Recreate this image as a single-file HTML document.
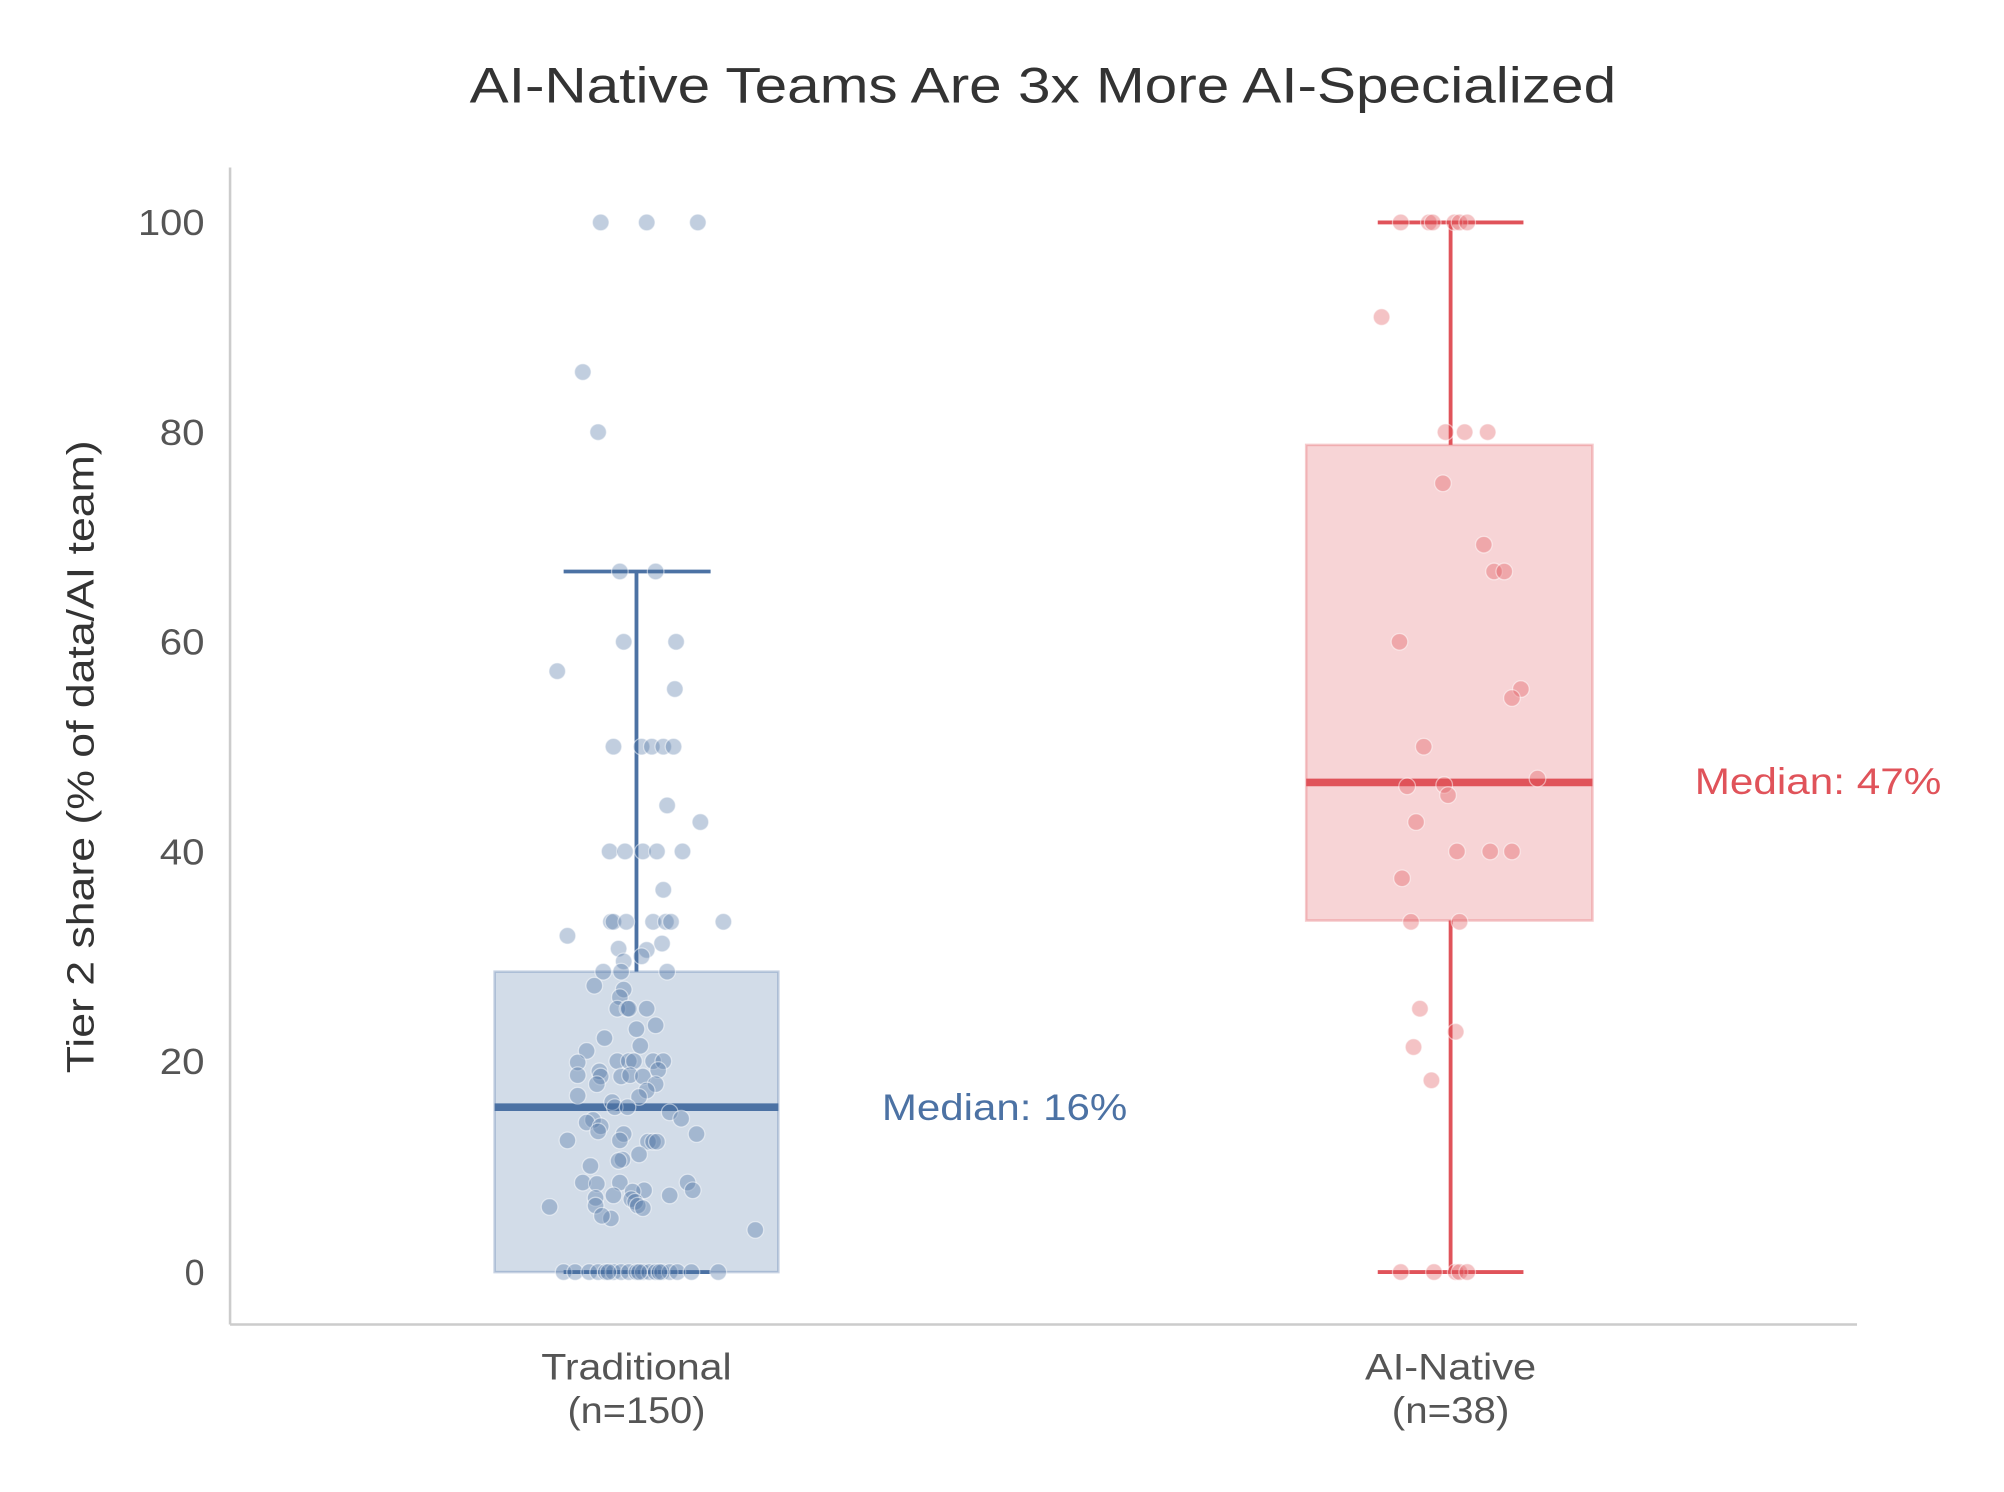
<!DOCTYPE html>
<html><head><meta charset="utf-8"><style>html,body{margin:0;padding:0;background:#fff}svg{display:block}</style></head>
<body>
<svg width="2004" height="1492" viewBox="0 0 1568 1167" preserveAspectRatio="none" xmlns="http://www.w3.org/2000/svg" font-family="Liberation Sans, Arial, sans-serif">
<rect width="1568" height="1167" fill="#fff"/>
<text x="816" y="80" font-size="39" fill="#333" text-anchor="middle" textLength="897" lengthAdjust="spacingAndGlyphs">AI-Native Teams Are 3x More AI-Specialized</text>
<line x1="180" y1="131" x2="180" y2="1036" stroke="#ccc" stroke-width="2"/>
<line x1="180" y1="1036" x2="1453" y2="1036" stroke="#ccc" stroke-width="2"/>
<g font-size="28" fill="#555" text-anchor="end">
<text x="160" y="184" textLength="52" lengthAdjust="spacingAndGlyphs">100</text><text x="160" y="348" textLength="35" lengthAdjust="spacingAndGlyphs">80</text><text x="160" y="512" textLength="35" lengthAdjust="spacingAndGlyphs">60</text><text x="160" y="676" textLength="35" lengthAdjust="spacingAndGlyphs">40</text><text x="160" y="840" textLength="35" lengthAdjust="spacingAndGlyphs">20</text><text x="160" y="1005">0</text>
</g>
<text transform="translate(73,592) rotate(-90)" font-size="30" fill="#333" text-anchor="middle" textLength="495" lengthAdjust="spacingAndGlyphs">Tier 2 share (% of data/AI team)</text>
<g font-size="29" fill="#555" text-anchor="middle">
<text x="498" y="1079" textLength="149" lengthAdjust="spacingAndGlyphs">Traditional</text><text x="498" y="1113" textLength="108" lengthAdjust="spacingAndGlyphs">(n=150)</text>
<text x="1135" y="1079" textLength="134" lengthAdjust="spacingAndGlyphs">AI-Native</text><text x="1135" y="1113" textLength="92" lengthAdjust="spacingAndGlyphs">(n=38)</text>
</g>
<!-- Traditional box -->
<rect x="387" y="760" width="222" height="235" fill="rgba(76,114,164,0.25)" stroke="rgba(76,114,164,0.3)" stroke-width="2"/>
<g stroke="#4C72A4" stroke-width="3">
<line x1="498" y1="760" x2="498" y2="447"/><line x1="441" y1="447" x2="556" y2="447"/>
<line x1="441" y1="995" x2="556" y2="995"/>
</g>
<line x1="387" y1="866" x2="609" y2="866" stroke="#4C72A4" stroke-width="6"/>
<text x="690" y="876" font-size="29" fill="#4C72A4" textLength="192" lengthAdjust="spacingAndGlyphs">Median: 16%</text>
<!-- AI-Native box -->
<rect x="1022" y="348" width="224" height="372" fill="rgba(224,83,90,0.25)" stroke="rgba(224,83,90,0.3)" stroke-width="2"/>
<g stroke="#E0535A" stroke-width="3">
<line x1="1135" y1="348" x2="1135" y2="174"/><line x1="1078" y1="174" x2="1192" y2="174"/>
<line x1="1135" y1="720" x2="1135" y2="995"/><line x1="1078" y1="995" x2="1192" y2="995"/>
</g>
<line x1="1022" y1="612" x2="1246" y2="612" stroke="#E0535A" stroke-width="6"/>
<text x="1326" y="621" font-size="29" fill="#E0535A" textLength="193" lengthAdjust="spacingAndGlyphs">Median: 47%</text>
<g fill="rgba(76,114,164,0.35)" stroke="rgba(255,255,255,0.5)" stroke-width="1">
<circle cx="470" cy="174" r="6.5"/><circle cx="506" cy="174" r="6.5"/><circle cx="546" cy="174" r="6.5"/>
<circle cx="456" cy="291" r="6.5"/><circle cx="468" cy="338" r="6.5"/><circle cx="485" cy="447" r="6.5"/><circle cx="513" cy="447" r="6.5"/><circle cx="488" cy="502" r="6.5"/><circle cx="529" cy="502" r="6.5"/><circle cx="436" cy="525" r="6.5"/><circle cx="528" cy="539" r="6.5"/><circle cx="480" cy="584" r="6.5"/><circle cx="502" cy="584" r="6.5"/><circle cx="510" cy="584" r="6.5"/><circle cx="519" cy="584" r="6.5"/><circle cx="527" cy="584" r="6.5"/><circle cx="522" cy="630" r="6.5"/><circle cx="548" cy="643" r="6.5"/><circle cx="477" cy="666" r="6.5"/><circle cx="489" cy="666" r="6.5"/><circle cx="503" cy="666" r="6.5"/><circle cx="514" cy="666" r="6.5"/><circle cx="534" cy="666" r="6.5"/><circle cx="519" cy="696" r="6.5"/><circle cx="444" cy="732" r="6.5"/><circle cx="478" cy="721" r="6.5"/><circle cx="480" cy="721" r="6.5"/><circle cx="490" cy="721" r="6.5"/><circle cx="511" cy="721" r="6.5"/><circle cx="521" cy="721" r="6.5"/><circle cx="525" cy="721" r="6.5"/><circle cx="566" cy="721" r="6.5"/><circle cx="518" cy="738" r="6.5"/><circle cx="484" cy="742" r="6.5"/><circle cx="506" cy="743" r="6.5"/><circle cx="502" cy="748" r="6.5"/><circle cx="488" cy="752" r="6.5"/><circle cx="486" cy="760" r="6.5"/><circle cx="472" cy="760" r="6.5"/><circle cx="522" cy="760" r="6.5"/><circle cx="465" cy="771" r="6.5"/><circle cx="488" cy="774" r="6.5"/><circle cx="485" cy="780" r="6.5"/><circle cx="483" cy="789" r="6.5"/><circle cx="491" cy="789" r="6.5"/><circle cx="492" cy="789" r="6.5"/><circle cx="506" cy="789" r="6.5"/><circle cx="513" cy="802" r="6.5"/><circle cx="498" cy="805" r="6.5"/><circle cx="459" cy="822" r="6.5"/><circle cx="473" cy="812" r="6.5"/><circle cx="501" cy="818" r="6.5"/><circle cx="483" cy="830" r="6.5"/><circle cx="492" cy="830" r="6.5"/><circle cx="496" cy="830" r="6.5"/><circle cx="511" cy="830" r="6.5"/><circle cx="519" cy="830" r="6.5"/><circle cx="452" cy="831" r="6.5"/><circle cx="486" cy="842" r="6.5"/><circle cx="493" cy="841" r="6.5"/><circle cx="503" cy="842" r="6.5"/><circle cx="515" cy="837" r="6.5"/><circle cx="469" cy="838" r="6.5"/><circle cx="470" cy="842" r="6.5"/><circle cx="452" cy="841" r="6.5"/><circle cx="467" cy="848" r="6.5"/><circle cx="452" cy="857" r="6.5"/><circle cx="513" cy="848" r="6.5"/><circle cx="506" cy="853" r="6.5"/><circle cx="500" cy="858" r="6.5"/><circle cx="479" cy="862" r="6.5"/><circle cx="481" cy="866" r="6.5"/><circle cx="491" cy="866" r="6.5"/><circle cx="524" cy="870" r="6.5"/><circle cx="464" cy="876" r="6.5"/><circle cx="459" cy="878" r="6.5"/><circle cx="470" cy="881" r="6.5"/><circle cx="533" cy="875" r="6.5"/><circle cx="545" cy="887" r="6.5"/><circle cx="488" cy="887" r="6.5"/><circle cx="468" cy="885" r="6.5"/><circle cx="444" cy="892" r="6.5"/><circle cx="507" cy="893" r="6.5"/><circle cx="511" cy="893" r="6.5"/><circle cx="485" cy="892" r="6.5"/><circle cx="514" cy="893" r="6.5"/><circle cx="500" cy="903" r="6.5"/><circle cx="487" cy="907" r="6.5"/><circle cx="484" cy="908" r="6.5"/><circle cx="462" cy="912" r="6.5"/><circle cx="456" cy="925" r="6.5"/><circle cx="485" cy="925" r="6.5"/><circle cx="538" cy="925" r="6.5"/><circle cx="467" cy="926" r="6.5"/><circle cx="542" cy="931" r="6.5"/><circle cx="504" cy="931" r="6.5"/><circle cx="495" cy="932" r="6.5"/><circle cx="524" cy="935" r="6.5"/><circle cx="480" cy="935" r="6.5"/><circle cx="466" cy="937" r="6.5"/><circle cx="494" cy="938" r="6.5"/><circle cx="497" cy="940" r="6.5"/><circle cx="499" cy="943" r="6.5"/><circle cx="503" cy="945" r="6.5"/><circle cx="466" cy="943" r="6.5"/><circle cx="430" cy="944" r="6.5"/><circle cx="478" cy="953" r="6.5"/><circle cx="591" cy="962" r="6.5"/><circle cx="471" cy="951" r="6.5"/>
<circle cx="441" cy="995" r="6.5"/><circle cx="450" cy="995" r="6.5"/><circle cx="461" cy="995" r="6.5"/><circle cx="468" cy="995" r="6.5"/><circle cx="474" cy="995" r="6.5"/><circle cx="480" cy="995" r="6.5"/><circle cx="486" cy="995" r="6.5"/><circle cx="492" cy="995" r="6.5"/><circle cx="498" cy="995" r="6.5"/><circle cx="503" cy="995" r="6.5"/><circle cx="508" cy="995" r="6.5"/><circle cx="513" cy="995" r="6.5"/><circle cx="518" cy="995" r="6.5"/><circle cx="524" cy="995" r="6.5"/><circle cx="530" cy="995" r="6.5"/><circle cx="541" cy="995" r="6.5"/><circle cx="562" cy="995" r="6.5"/><circle cx="476" cy="995" r="6.5"/><circle cx="500" cy="995" r="6.5"/><circle cx="516" cy="995" r="6.5"/>
</g>
<g fill="rgba(224,83,90,0.35)" stroke="rgba(255,255,255,0.5)" stroke-width="1">
<circle cx="1096" cy="174" r="6.5"/><circle cx="1118" cy="174" r="6.5"/><circle cx="1121" cy="174" r="6.5"/><circle cx="1138" cy="174" r="6.5"/><circle cx="1142" cy="174" r="6.5"/><circle cx="1148" cy="174" r="6.5"/>
<circle cx="1081" cy="248" r="6.5"/><circle cx="1131" cy="338" r="6.5"/><circle cx="1146" cy="338" r="6.5"/><circle cx="1164" cy="338" r="6.5"/><circle cx="1129" cy="378" r="6.5"/><circle cx="1161" cy="426" r="6.5"/><circle cx="1169" cy="447" r="6.5"/><circle cx="1177" cy="447" r="6.5"/><circle cx="1095" cy="502" r="6.5"/><circle cx="1190" cy="539" r="6.5"/><circle cx="1183" cy="546" r="6.5"/><circle cx="1114" cy="584" r="6.5"/><circle cx="1101" cy="615" r="6.5"/><circle cx="1130" cy="614" r="6.5"/><circle cx="1133" cy="622" r="6.5"/><circle cx="1203" cy="609" r="6.5"/><circle cx="1108" cy="643" r="6.5"/><circle cx="1140" cy="666" r="6.5"/><circle cx="1166" cy="666" r="6.5"/><circle cx="1183" cy="666" r="6.5"/><circle cx="1097" cy="687" r="6.5"/><circle cx="1104" cy="721" r="6.5"/><circle cx="1142" cy="721" r="6.5"/><circle cx="1111" cy="789" r="6.5"/><circle cx="1139" cy="807" r="6.5"/><circle cx="1106" cy="819" r="6.5"/><circle cx="1120" cy="845" r="6.5"/>
<circle cx="1096" cy="995" r="6.5"/><circle cx="1122" cy="995" r="6.5"/><circle cx="1139" cy="995" r="6.5"/><circle cx="1142" cy="995" r="6.5"/><circle cx="1148" cy="995" r="6.5"/>
</g>
</svg>
</body></html>
